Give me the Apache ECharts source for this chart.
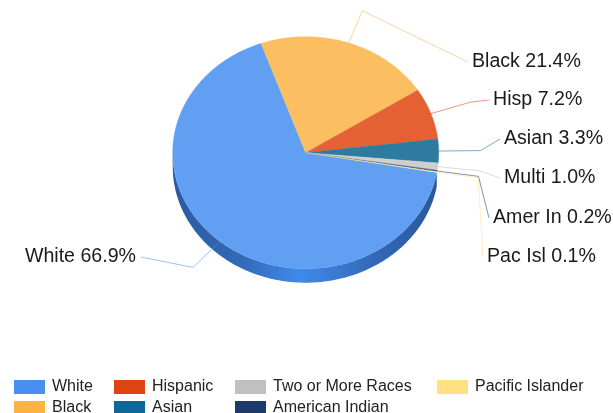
<!DOCTYPE html>
<html>
<head>
<meta charset="utf-8">
<script src="https://cdn.jsdelivr.net/npm/echarts@6/dist/echarts.min.js"></script>
<style>
  html, body { margin: 0; padding: 0; background: #ffffff; }
  #chart { width: 613px; height: 413px; }
</style>
</head>
<body>
<div id="chart"></div>
<script>
// Population share by race / ethnicity
const categories = ['White', 'Black', 'Hispanic', 'Asian', 'Two or More Races', 'American Indian', 'Pacific Islander'];
const shortNames = ['White', 'Black', 'Hisp', 'Asian', 'Multi', 'Amer In', 'Pac Isl'];
const shares = [66.9, 21.4, 7.2, 3.3, 1.0, 0.2, 0.1];

// Styling
const legendColors = ['#4a8ef2', '#fbb343', '#dd4411', '#0e6796', '#c0c0c0', '#1c3a6a', '#ffe083'];
const faceColors   = ['#609ff1', '#fbbf61', '#e56134', '#2e7ba0', '#cfcfcf', '#3d5c8a', '#ffeaa2'];
const sideColors   = ['#3572c8', '#c8923d', '#a8451f', '#1d5a7a', '#9a9a9a', '#1b3054', '#d8bd6a'];

// Tilted pie geometry (angles in degrees, 0 = top, clockwise)
const PIE = { cx: 305.7, cy: 152.7, rx: 133, ry: 116, depth: 14, start: 99.8 };
const LEADER = { rx: 175, ry: 150 };
// Label text anchors: [x, y, align]
const labelAnchors = [
  [136, 257, 'right'],
  [472, 62, 'left'],
  [493, 100, 'left'],
  [504, 139, 'left'],
  [504, 178, 'left'],
  [493, 218, 'left'],
  [487, 257, 'left']
];
// Legend grid: column-major, two rows
const legendLefts = [14, 114, 235, 437];
const legendTops = [379, 400];

const total = shares.reduce((a, b) => a + b, 0);
function sliceRange(i) {
  let a = PIE.start;
  for (let k = 0; k < i; k++) a += shares[k] / total * 360;
  return [a, a + shares[i] / total * 360];
}
function pt(theta, rx, ry, dy) {
  const r = theta * Math.PI / 180;
  return [PIE.cx + rx * Math.sin(r), PIE.cy - ry * Math.cos(r) + (dy || 0)];
}
function arc(a0, a1, dy) {
  const pts = [];
  const n = Math.max(2, Math.ceil(Math.abs(a1 - a0) / 0.5));
  for (let k = 0; k <= n; k++) pts.push(pt(a0 + (a1 - a0) * k / n, PIE.rx, PIE.ry, dy));
  return pts;
}

function makeRenderer(i) {
  return function (params, api) {
    const [a0, a1] = sliceRange(i);
    const children = [];
    // visible side wall (front half: 90..270 deg)
    const s0 = Math.max(a0, 90), s1 = Math.min(a1, 270);
    if (s1 > s0) {
      const top = arc(s0, s1, 0);
      const bottom = arc(s1, s0, PIE.depth);
      const fill = i === 0 ? {
        type: 'linear', global: true,
        x: PIE.cx - PIE.rx, y: 0, x2: PIE.cx + PIE.rx, y2: 0,
        colorStops: [
          { offset: 0, color: '#2b5a9f' },
          { offset: 0.25, color: '#3369b8' },
          { offset: 0.48, color: '#3f8aea' },
          { offset: 0.75, color: '#3369b8' },
          { offset: 1, color: '#2a579b' }
        ]
      } : sideColors[i];
      children.push({
        type: 'polygon', z2: 1,
        shape: { points: top.concat(bottom) },
        style: { fill: fill, stroke: null }
      });
    }
    // top face
    children.push({
      type: 'polygon', z2: 10,
      shape: { points: [[PIE.cx, PIE.cy]].concat(arc(a0, a1, 0)) },
      style: { fill: faceColors[i], stroke: faceColors[i], lineWidth: 0.4 }
    });
    // leader line and label
    const mid = (a0 + a1) / 2;
    const p0 = pt(mid, PIE.rx, PIE.ry, 0);
    const p1 = pt(mid, LEADER.rx, LEADER.ry, 0);
    const anc = labelAnchors[i];
    const p2 = anc[2] === 'right' ? [anc[0] + 5, anc[1]] : [anc[0] - 4, anc[1]];
    children.push({
      type: 'polyline', z2: 20,
      shape: { points: [p0, p1, p2] },
      style: { stroke: legendColors[i], opacity: 0.55, lineWidth: 1, fill: null }
    });
    children.push({
      type: 'text', z2: 21,
      style: {
        x: anc[0], y: anc[1],
        text: shortNames[i] + ' ' + shares[i].toFixed(1) + '%',
        fill: '#1a1a1a',
        fontSize: 19.6,
        fontFamily: 'Liberation Sans, Arial, sans-serif',
        align: anc[2],
        verticalAlign: 'middle'
      }
    });
    return { type: 'group', children: children };
  };
}

const chart = echarts.init(document.getElementById('chart'), null, { renderer: 'canvas' });
chart.setOption({
  backgroundColor: '#ffffff',
  animation: false,
  legend: categories.map((name, i) => ({
    data: [name],
    left: legendLefts[Math.floor(i / 2)],
    top: legendTops[i % 2],
    padding: 0,
    icon: 'rect',
    itemWidth: 31,
    itemHeight: 14,
    selectedMode: false,
    textStyle: {
      color: '#222222',
      fontSize: 16,
      fontFamily: 'Liberation Sans, Arial, sans-serif',
      padding: [0, 0, 0, 2]
    }
  })),
  series: categories.map((name, i) => ({
    type: 'custom',
    name: name,
    coordinateSystem: 'none',
    silent: true,
    itemStyle: { color: legendColors[i] },
    data: [[shares[i]]],
    renderItem: makeRenderer(i)
  }))
});
</script>
</body>
</html>
